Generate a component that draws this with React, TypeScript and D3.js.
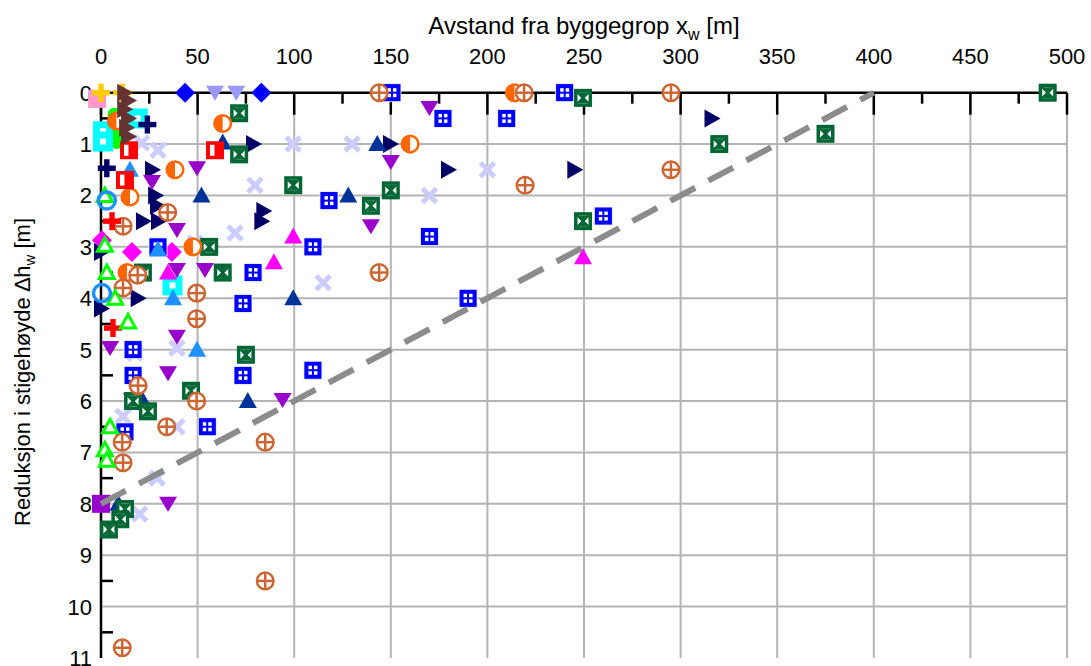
import React from 'react';
import * as d3 from 'd3';

// chart data: [distance x_w (m), reduction dh_w (m)]
const sienna_circlePlus = [
  [144, 0], [219, 0], [295, 0], [219.5, 1.8], [295, 1.5], [144, 3.5], [34.5, 2.33], [11.4, 2.6],
  [11.4, 3.8], [19, 3.55], [49.5, 3.9], [49.5, 4.4], [19.2, 5.7], [49.5, 6.0], [34, 6.5],
  [11, 6.8], [85, 6.8], [11.4, 7.2], [85, 9.5], [11, 10.8],
];
const blue_squareDots = [
  [150.6, 0], [177, 0.5], [210, 0.5], [240, 0], [260, 2.4], [118, 2.1], [170, 2.8], [109.7, 3.0],
  [190, 4.0], [109.7, 5.4], [78.7, 3.5], [73.5, 4.1], [16.6, 5.0], [16.6, 5.5], [73.5, 5.5],
  [55, 6.5], [12.4, 6.6], [29.5, 3.0],
];
const green_squareX = [
  [490, 0], [375, 0.8], [249.5, 0.1], [320, 1.0], [249.5, 2.5], [99.5, 1.8], [150, 1.9],
  [139.7, 2.2], [71.5, 0.4], [71.5, 1.2], [56, 3.0], [21.7, 3.5], [63, 3.5], [75, 5.1],
  [46.6, 5.8], [16.6, 6.0], [24.3, 6.2], [12.4, 8.1], [10, 8.3], [4.1, 8.5],
];
const navy_triRight = [
  [316, 0.5], [245, 1.5], [149.6, 1.0], [179.6, 1.5], [84, 2.3], [83, 2.5], [78.7, 1.0],
  [26.4, 1.5], [28, 2.0], [29, 2.2], [21.7, 2.5], [29.5, 2.5], [0, 3.1], [19, 4.0], [0, 4.2],
];
const purple_triDown = [
  [170, 0.3], [150, 1.35], [139.7, 2.6], [49.7, 1.47], [26.4, 1.74], [39.3, 2.67], [39.3, 3.45],
  [53.8, 3.45], [4.7, 4.97], [39.3, 4.75], [34.7, 5.46], [16, 5.98], [34.7, 8.0], [94, 5.98],
];
const lavender_cross = [
  [99.5, 1.0], [130, 1.0], [200, 1.5], [170, 2.0], [115, 3.7], [29.5, 1.12], [21, 0.98],
  [79.7, 1.8], [69.4, 2.73], [48.7, 2.93], [39.3, 4.97], [17.6, 5.07], [11.4, 6.3], [39.3, 6.5],
  [29, 7.5], [20, 8.2],
];
const darkblue_triUp = [
  [143, 1.0], [128, 2.0], [99.5, 4.0], [63, 0.97], [52, 2.0], [76, 6.0], [9, 8.0], [21, 5.95],
];
const dodger_triUp = [[15, 1.5], [29.5, 3.05], [37.3, 4.0], [49.7, 5.0]];
const magenta_triUp = [[249.5, 3.2], [99.5, 2.8], [89.5, 3.3], [34.7, 3.5]];
const magenta_diamond = [[0.5, 2.87], [16, 3.1], [36.7, 3.1]];
const blue_diamond = [[43.5, 0], [83, 0]];
const lilac_triDown = [[59, 0], [70, 0]];
const orange_halfCircle = [
  [214, 0], [160, 1.0], [63, 0.6], [38.3, 1.5], [15, 2.03], [47.6, 3.0], [13.5, 3.5], [8, 0.55],
];
const red_box = [[14.5, 1.12], [59, 1.12], [12.4, 1.7]];
const red_plus = [[5.7, 2.5], [6.2, 4.58]];
const green_openTri = [[2, 2.0], [2, 2.97], [3, 3.5], [7.3, 4.0], [14, 4.46], [4.7, 6.5], [2, 6.95], [3, 7.15]];
const dodger_openCircle = [[3, 2.1], [0.5, 3.9]];
const navy_plus = [[3, 1.47], [24, 0.62]];
const cyan_box = [[1, 0.75], [1, 0.95], [19, 0.5], [37, 3.75]];
const lime_dot = [[7, 0.43], [8.3, 0.96], [8, 0.83]];
const yellow_plus = [[0, 0], [11, 0]];
const pink_square = [[-2, 0.12]];
const purple_square = [[0, 8.0]];
const brown_triRight = [[12, 0], [14, 0.15], [12, 0.32], [14, 0.5], [13, 0.68], [14, 0.85]];

const series = [
  { data: lime_dot, shape: 'dot', color: '#00ff00' },
  { data: cyan_box, shape: 'cyanBox', color: '#00ffff' },
  { data: pink_square, shape: 'square', color: '#ff99cc' },
  { data: yellow_plus, shape: 'plus', color: '#ffcc00' },
  { data: lavender_cross, shape: 'cross', color: '#ccccff' },
  { data: navy_plus, shape: 'plus', color: '#000066' },
  { data: navy_triRight, shape: 'triRight', color: '#000066' },
  { data: darkblue_triUp, shape: 'triUp', color: '#003399' },
  { data: purple_triDown, shape: 'triDown', color: '#9900cc' },
  { data: magenta_triUp, shape: 'triUp', color: '#ff00ff' },
  { data: magenta_diamond, shape: 'diamond', color: '#ff00ff' },
  { data: blue_diamond, shape: 'diamond', color: '#0000ff' },
  { data: lilac_triDown, shape: 'triDown', color: '#9999ff' },
  { data: blue_squareDots, shape: 'squareDots', color: '#0000ff' },
  { data: dodger_triUp, shape: 'triUp', color: '#1e90ff' },
  { data: green_squareX, shape: 'squareX', color: '#006633' },
  { data: orange_halfCircle, shape: 'halfCircle', color: '#ff6600' },
  { data: red_box, shape: 'redBox', color: '#ff0000' },
  { data: sienna_circlePlus, shape: 'circlePlus', color: '#cc6633' },
  { data: red_plus, shape: 'plus', color: '#ff0000' },
  { data: green_openTri, shape: 'openTri', color: '#00ff00' },
  { data: dodger_openCircle, shape: 'openCircle', color: '#1e90ff' },
  { data: brown_triRight, shape: 'triRight', color: '#663333' },
  { data: purple_square, shape: 'square', color: '#9900cc' },
];

const trendLine = [[0, 8], [400, 0]];

const W = 1091;
const H = 666;
const x = d3.scaleLinear().domain([0, 500]).range([101, 1067]);
const y = d3.scaleLinear().domain([0, 11]).range([92.7, 658]);

const xTicks = d3.range(0, 501, 50);
const xMinor = d3.range(25, 500, 50);
const yTicks = d3.range(0, 12, 1);
const yMinor = d3.range(0.5, 11, 1);

const font = 'Liberation Sans, Arial, sans-serif';

function Marker({ shape, color }: { shape: string; color: string }) {
  switch (shape) {
    case 'diamond':
      return <polygon points="0,-10 10,0 0,10 -10,0" fill={color} />;
    case 'triDown':
      return <polygon points="-9,-7 9,-7 0,8" fill={color} />;
    case 'triUp':
      return <polygon points="-9,7 9,7 0,-9" fill={color} />;
    case 'triRight':
      return <polygon points="-7,-9 -7,9 9,0" fill={color} />;
    case 'cross':
      return (
        <g stroke={color} strokeWidth={5}>
          <line x1={-7} y1={-7} x2={7} y2={7} />
          <line x1={-7} y1={7} x2={7} y2={-7} />
        </g>
      );
    case 'plus':
      return (
        <g fill={color}>
          <rect x={-9} y={-2.7} width={18} height={5.4} />
          <rect x={-2.7} y={-9} width={5.4} height={18} />
        </g>
      );
    case 'circlePlus':
      return (
        <g stroke={color} strokeWidth={2.5} fill="#fff">
          <circle r={8.3} />
          <line x1={-8} x2={8} y1={0} y2={0} />
          <line y1={-8} y2={8} x1={0} x2={0} />
        </g>
      );
    case 'halfCircle':
      return (
        <g>
          <circle r={8.3} fill="#fff" stroke={color} strokeWidth={2.5} />
          <path d="M0,-8.3 A8.3,8.3 0 0 0 0,8.3 Z" fill={color} />
        </g>
      );
    case 'squareDots':
      return (
        <g>
          <rect x={-9} y={-9} width={18} height={18} fill={color} stroke="#fff" strokeWidth={0.8} />
          {[[-4.5, -4.5], [1, -4.5], [-4.5, 1], [1, 1]].map(([dx, dy], i) => (
            <rect key={i} x={dx} y={dy} width={3.5} height={3.5} fill="#fff" />
          ))}
        </g>
      );
    case 'squareX':
      return (
        <g>
          <rect x={-9} y={-9} width={18} height={18} fill={color} />
          <rect x={-5.5} y={-5.5} width={11} height={11} fill="#fff" />
          <path d="M-5.5,-5.5 L5.5,5.5 M-5.5,5.5 L5.5,-5.5" stroke={color} strokeWidth={2.4} />
          <path d="M-4,-5.5 L4,-5.5 L0,-1 Z M-4,5.5 L4,5.5 L0,1 Z" fill={color} />
        </g>
      );
    case 'redBox':
      return (
        <g>
          <rect x={-9} y={-9} width={18} height={18} fill={color} />
          <rect x={-5} y={-5.5} width={4.5} height={11} fill="#fff" />
        </g>
      );
    case 'cyanBox':
      return (
        <g>
          <rect x={-10} y={-10} width={20} height={20} fill={color} />
          <rect x={-3} y={-3} width={6} height={6} fill="#fff" />
        </g>
      );
    case 'openTri':
      return <polygon points="-7.5,6 7.5,6 0,-7.5" fill="#fff" stroke={color} strokeWidth={3} />;
    case 'openCircle':
      return <circle r={8.5} fill="none" stroke={color} strokeWidth={3.5} />;
    case 'square':
      return <rect x={-9} y={-9} width={18} height={18} fill={color} />;
    case 'dot':
      return <circle r={7} fill={color} />;
    default:
      return null;
  }
}

export default function App() {
  const line = d3.line().x((d) => x(d[0])).y((d) => y(d[1]));
  return (
    <svg width={W} height={H} style={{ position: 'absolute', left: 0, top: 0, background: '#fff' }}>
      {/* grid */}
      <g stroke="#b4b4b4" strokeWidth={2}>
        {xTicks.slice(1).map((t) => (
          <line key={'gx' + t} x1={x(t)} x2={x(t)} y1={y(0)} y2={y(11)} />
        ))}
        {yTicks.slice(1, 11).map((t) => (
          <line key={'gy' + t} x1={x(0)} x2={x(500)} y1={y(t)} y2={y(t)} />
        ))}
      </g>
      {/* axes */}
      <g stroke="#000" strokeWidth={2.5}>
        <line x1={x(0)} x2={x(500)} y1={y(0)} y2={y(0)} />
        <line x1={x(0)} x2={x(0)} y1={y(0)} y2={y(11)} />
        {xTicks.map((t) => (
          <line key={'tx' + t} x1={x(t)} x2={x(t)} y1={y(0)} y2={y(0) + 22} />
        ))}
        {xMinor.map((t) => (
          <line key={'mx' + t} x1={x(t)} x2={x(t)} y1={y(0)} y2={y(0) + 11} />
        ))}
        {yMinor.map((t) => (
          <line key={'my' + t} x1={x(0)} x2={x(0) + 12} y1={y(t)} y2={y(t)} />
        ))}
      </g>
      <g fontFamily={font} fontSize={22} fill="#000">
        {xTicks.map((t) => (
          <text key={'lx' + t} x={x(t)} y={64} textAnchor="middle">{t}</text>
        ))}
        {yTicks.map((t) => (
          <text key={'ly' + t} x={92} y={y(t) + 8} textAnchor="end">{t}</text>
        ))}
        <text x={584} y={34} textAnchor="middle" fontSize={24}>
          Avstand fra byggegrop x<tspan fontSize={16} dy={6}>w</tspan>
          <tspan dy={-6}> [m]</tspan>
        </text>
        <text transform={`translate(30,${372}) rotate(-90)`} textAnchor="middle" fontSize={22}>
          Reduksjon i stigehøyde ∆h<tspan fontSize={15} dy={5}>w</tspan>
          <tspan dy={-5}> [m]</tspan>
        </text>
      </g>
      {/* markers */}
      {series.map((s, i) => (
        <g key={i}>
          {s.data.map((d, j) => (
            <g key={j} transform={`translate(${x(d[0])},${y(d[1])})`}>
              <Marker shape={s.shape} color={s.color} />
            </g>
          ))}
        </g>
      ))}
      <path d={line(trendLine) || ''} fill="none" stroke="#8c8c8c" strokeWidth={6} strokeDasharray="28,15" />
    </svg>
  );
}
